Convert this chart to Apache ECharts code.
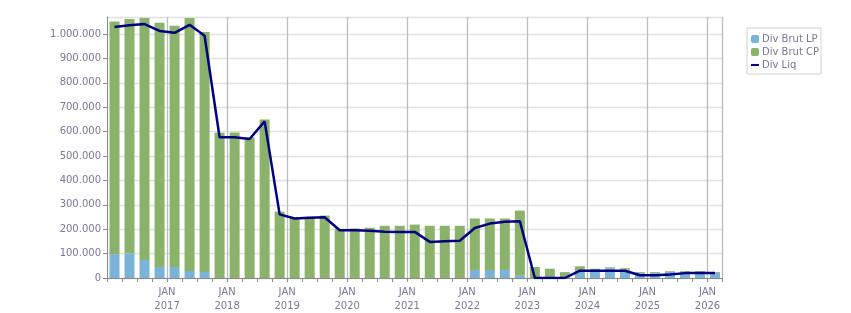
<!DOCTYPE html>
<html>
<head>
<meta charset="utf-8">
<script src="https://cdn.jsdelivr.net/npm/echarts@6/dist/echarts.min.js"></script>
<style>
  html, body { margin: 0; padding: 0; background: #fff; }
  #myChart { width: 851px; height: 313px; }
</style>
</head>
<body>
<div id="myChart"></div>
<script>
// quarters, Q1 2016 .. Q1 2026
const quarters = [
  "2016-Q1", "2016-Q2", "2016-Q3", "2016-Q4",
  "2017-Q1", "2017-Q2", "2017-Q3", "2017-Q4",
  "2018-Q1", "2018-Q2", "2018-Q3", "2018-Q4",
  "2019-Q1", "2019-Q2", "2019-Q3", "2019-Q4",
  "2020-Q1", "2020-Q2", "2020-Q3", "2020-Q4",
  "2021-Q1", "2021-Q2", "2021-Q3", "2021-Q4",
  "2022-Q1", "2022-Q2", "2022-Q3", "2022-Q4",
  "2023-Q1", "2023-Q2", "2023-Q3", "2023-Q4",
  "2024-Q1", "2024-Q2", "2024-Q3", "2024-Q4",
  "2025-Q1", "2025-Q2", "2025-Q3", "2025-Q4",
  "2026-Q1"
];
const divBrutLP = [
  98000, 101000, 74000, 45000, 45000, 29000, 25000, 0,
  0, 0, 0, 0, 0, 0, 0, 0,
  0, 0, 0, 0, 0, 0, 0, 0,
  33000, 33000, 33000, 9000, 0, 0, 0, 32000,
  32000, 40000, 34000, 20000, 20000, 25000, 25000, 24000,
  20000
];
const divBrutCP = [
  954000, 961000, 992000, 1001000, 989000, 1037000, 983000, 595000,
  597000, 577000, 650000, 272000, 246000, 251000, 256000, 200000,
  203000, 206000, 214000, 214000, 219000, 214000, 214000, 214000,
  211000, 211000, 211000, 267000, 45000, 38000, 24000, 16000,
  6000, 4000, 6000, 4000, 4000, 3000, 3000, 4000,
  4000
];
const divLiq = [
  1029000, 1036000, 1041000, 1013000, 1005000, 1038000, 993000, 577000,
  577000, 570000, 642000, 261000, 244000, 247000, 249000, 196000,
  196000, 194000, 190000, 189000, 189000, 148000, 151000, 153000,
  205000, 223000, 231000, 233000, 0, 0, 0, 30000,
  30000, 30000, 30000, 11000, 11000, 14000, 20000, 20000,
  20000
];
const yTicks = { min: 0, max: 1070000, interval: 100000 };

const labelColor = "#77779a";
const myEcharts = echarts.init(document.getElementById("myChart"));

function fmt(v) {
  return String(v).replace(/\B(?=(\d{3})+(?!\d))/g, ".");
}

let option = {
  backgroundColor: "#fff",
  animation: false,
  textStyle: { fontFamily: "DejaVu Sans" },
  grid: { left: 107, right: 128.5, top: 17, bottom: 33 },
  legend: {
    orient: "vertical",
    left: 747,
    top: 28,
    padding: [6, 2, 4, 4],
    itemGap: 3,
    itemWidth: 8,
    itemHeight: 8,
    symbolKeepAspect: true,
    borderColor: "#d0d0d0",
    borderWidth: 1,
    textStyle: { color: labelColor, fontSize: 10, fontFamily: "DejaVu Sans", padding: [0, 0, 0, -2] },
    data: [
      "Div Brut LP",
      "Div Brut CP",
      { name: "Div Liq", icon: "path://M0,0 H10 V2.6 H0 Z" },
    ],
  },
  xAxis: {
    type: "category",
    data: quarters,
    boundaryGap: true,
    axisLine: { lineStyle: { color: "#8a8a8a", width: 1 } },
    axisTick: { show: true, interval: 0, length: 4, lineStyle: { color: "#8a8a8a" } },
    splitLine: {
      show: true,
      interval: function (i, v) {
        return v.slice(5) === "Q1" && i > 0;
      },
      lineStyle: { color: "#bcbcbc", width: 1.3 },
    },
    axisLabel: {
      interval: function (i, v) {
        return v.slice(5) === "Q1" && i > 0;
      },
      formatter: function (v) {
        return "JAN\n" + v.slice(0, 4);
      },
      color: labelColor,
      fontSize: 10,
      lineHeight: 14,
      margin: 7,
      padding: [0, 15, 0, 0],
    },
  },
  yAxis: {
    type: "value",
    min: yTicks.min,
    max: yTicks.max,
    interval: yTicks.interval,
    axisLine: { show: true, lineStyle: { color: "#8a8a8a" } },
    axisTick: { show: true, length: 4, lineStyle: { color: "#8a8a8a" } },
    splitLine: { show: true, lineStyle: { color: "#e0e0e0", width: 1.3 } },
    axisLabel: {
      showMaxLabel: false,
      color: labelColor,
      fontSize: 10,
      margin: 6,
      formatter: fmt,
    },
  },
  series: [
    {
      name: "Div Brut LP",
      type: "bar",
      stack: "brut",
      barWidth: 10,
      itemStyle: { color: "#7ab2d8" },
      data: divBrutLP,
    },
    {
      name: "Div Brut CP",
      type: "bar",
      stack: "brut",
      barWidth: 10,
      itemStyle: { color: "#8ab26b" },
      data: divBrutCP,
    },
    {
      name: "Div Liq",
      type: "line",
      symbol: "none",
      showSymbol: false,
      lineStyle: { color: "#000080", width: 2.5 },
      itemStyle: { color: "#000080" },
      z: 5,
      data: divLiq,
    },
  ],
};
myEcharts.setOption(option);

window.onresize = function () {
  myEcharts.resize();
};
</script>
</body>
</html>
